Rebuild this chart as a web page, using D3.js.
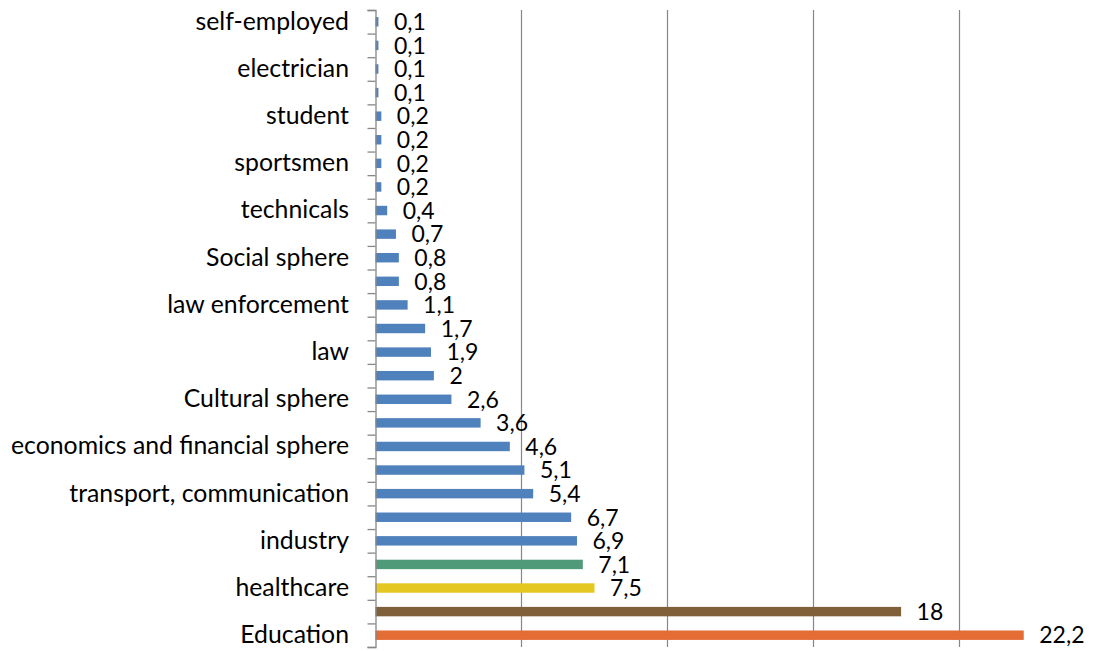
<!DOCTYPE html>
<html>
<head>
<meta charset="utf-8">
<script src="https://cdn.jsdelivr.net/npm/d3@7"></script>
<style>
  html, body { margin: 0; padding: 0; background: #fff; }
  svg { display: block; }
  text { font-family: Lato, "Open Sans", sans-serif; fill: #000; }
</style>
</head>
<body>
<svg id="chart" width="1095" height="651"></svg>
<script>
// Categories, top to bottom (only every other category is labelled on the axis)
const categories = [
  "self-employed", "", "electrician", "", "student", "", "sportsmen", "",
  "technicals", "", "Social sphere", "", "law enforcement", "", "law", "",
  "Cultural sphere", "", "economics and financial sphere", "",
  "transport, communication", "", "industry", "", "healthcare", "", "Education"
];
// Values (%), top to bottom
const values = [
  0.1, 0.1, 0.1, 0.1, 0.2, 0.2, 0.2, 0.2, 0.4, 0.7, 0.8, 0.8, 1.1, 1.7,
  1.9, 2, 2.6, 3.6, 4.6, 5.1, 5.4, 6.7, 6.9, 7.1, 7.5, 18, 22.2
];
// Value labels as shown
const valueLabels = values.map(v => String(v).replace(".", ","));
// Value-axis gridline ticks
const xTicks = [0, 5, 10, 15, 20, 25];

// ---- styles ----
const BLUE = "#4f81bd";
const specialColors = { 23: "#4f9a78", 24: "#e5c722", 25: "#7f6039", 26: "#e46c35" };
const CAT_FONT = 24.8;
const VAL_FONT = 23;

const svg = d3.select("#chart");
const mLeft = 375, mRight = 1105, mTop = 10, mBottom = 647;

const x = d3.scaleLinear().domain([0, 25]).range([mLeft, mRight]);
const idx = d3.range(categories.length);
const y = d3.scaleBand().domain(idx).range([mTop, mBottom]).paddingInner(0.6).paddingOuter(0.3);
const yEdges = d3.scaleLinear().domain([0, categories.length]).range([mTop, mBottom]);

// gridlines
svg.append("g")
  .selectAll("line")
  .data(xTicks.filter(t => t > 0))
  .join("line")
  .attr("x1", d => x(d) + 0.5).attr("x2", d => x(d) + 0.5)
  .attr("y1", mTop).attr("y2", mBottom)
  .attr("stroke", "#878787").attr("stroke-width", 1.2);

// bars
svg.append("g")
  .selectAll("rect")
  .data(idx)
  .join("rect")
  .attr("x", x(0) + 0.5)
  .attr("y", i => y(i))
  .attr("width", i => x(values[i]) - x(0))
  .attr("height", y.bandwidth())
  .attr("fill", i => specialColors[i] || BLUE);

// category axis (ticks at band edges)
const axisG = svg.append("g")
  .attr("transform", `translate(${mLeft + 0.5},0)`)
  .call(d3.axisLeft(yEdges).tickValues(d3.range(categories.length + 1)).tickSize(8).tickSizeOuter(8).tickFormat(""));
axisG.selectAll("path, line").attr("stroke", "#878787").attr("stroke-width", 1.3);

// category labels
const labelG = svg.append("g")
  .attr("transform", `translate(${mLeft},0)`)
  .call(d3.axisLeft(y).tickSize(0).tickPadding(26).tickFormat(i => categories[i]));
labelG.select(".domain").remove();
labelG.selectAll("text")
  .attr("font-size", CAT_FONT)
  .style("font-family", "Lato, 'Open Sans', sans-serif")
  .attr("fill", "#000");

// value labels
svg.append("g")
  .selectAll("text")
  .data(idx)
  .join("text")
  .attr("x", i => x(values[i]) + 16)
  .attr("y", i => y(i) + y.bandwidth() / 2)
  .attr("dy", "0.36em")
  .attr("font-size", VAL_FONT)
  .text(i => valueLabels[i]);
</script>
</body>
</html>
